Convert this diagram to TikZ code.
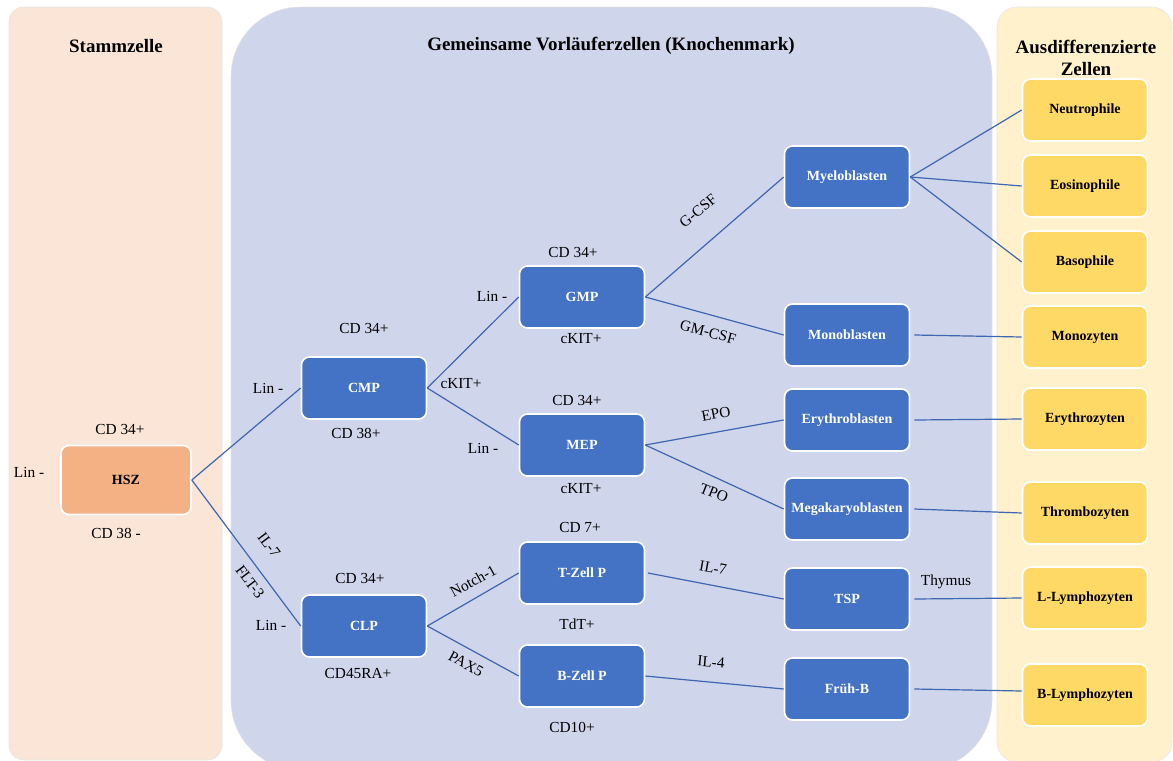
\documentclass[tikz,border=0pt]{standalone}
\usepackage{fontspec}
\setmainfont{Liberation Serif}
\definecolor{stemfill}{HTML}{FAE5D7}
\definecolor{progfill}{HTML}{CFD5EA}
\definecolor{matfill}{HTML}{FFF1CC}
\definecolor{hszfill}{HTML}{F4B183}
\definecolor{progblue}{HTML}{4472C4}
\definecolor{matyellow}{HTML}{FFD966}
\definecolor{linkblue}{HTML}{3F66B0}
\begin{document}
\begin{tikzpicture}[x=0.75pt,y=-0.75pt]
    \tikzstyle{panel} = [draw=black!10, line width=0.4pt]
    \tikzstyle{cell} = [draw=white, line width=1.2pt, rounded corners=6pt, minimum width=93.75pt, minimum height=46.5pt, inner sep=1pt, font=\fontsize{10.5}{12}\selectfont\bfseries]
    \tikzstyle{stem} = [cell, fill=hszfill, minimum width=97.5pt, minimum height=51.75pt]
    \tikzstyle{prog} = [cell, fill=progblue, text=white]
    \tikzstyle{mature} = [cell, fill=matyellow]
    \tikzstyle{marker} = [inner sep=0pt, font=\fontsize{11.5}{13}\selectfont]
    \tikzstyle{link} = [draw=linkblue, line width=0.9pt]
    \tikzstyle{title} = [align=center, font=\fontsize{14.2}{17}\selectfont\bfseries]
    \useasboundingbox (0,0) rectangle (1173,760);

    % Hintergrund
    \draw[panel, fill=stemfill, rounded corners=11pt] (9,7) rectangle (222,760);
    \draw[panel, fill=progfill, rounded corners=52pt] (231,7) rectangle (992,770);
    \draw[panel, fill=matfill, rounded corners=15pt] (997,7) rectangle (1172,762);
    \node[title] (tStamm) at (116,46) {Stammzelle};
    \node[title] (tVorl) at (611,46) {Gemeinsame Vorläuferzellen (Knochenmark)};
    \node[title] (tAusd) at (1086,58) {Ausdifferenzierte\\Zellen};

    % Zellen
    \node[stem] (hsz) at (126,480) {HSZ};
    \node[prog] (cmp) at (364,388) {CMP};
    \node[prog] (gmp) at (582,297) {GMP};
    \node[prog] (mep) at (582,445) {MEP};
    \node[prog] (clp) at (364,626) {CLP};
    \node[prog] (tzp) at (582,573) {T-Zell P};
    \node[prog] (bzp) at (582,676) {B-Zell P};
    \node[prog] (myelo) at (847,177) {Myeloblasten};
    \node[prog] (mono) at (847,335) {Monoblasten};
    \node[prog] (erythro) at (847,420) {Erythroblasten};
    \node[prog] (mega) at (847,509) {Megakaryoblasten};
    \node[prog] (tsp) at (847,599) {TSP};
    \node[prog] (frueh) at (847,689) {Früh-B};
    \node[mature] (neutro) at (1085,110) {Neutrophile};
    \node[mature] (eosino) at (1085,186) {Eosinophile};
    \node[mature] (baso) at (1085,262) {Basophile};
    \node[mature] (monoz) at (1085,337) {Monozyten};
    \node[mature] (erythroz) at (1085,419) {Erythrozyten};
    \node[mature] (thrombo) at (1085,513) {Thrombozyten};
    \node[mature] (llym) at (1085,598) {L-Lymphozyten};
    \node[mature] (blym) at (1085,695) {B-Lymphozyten};

    % Verbindungen
    \draw[link] (hsz.east) -- (cmp.west);
    \draw[link] (hsz.east) -- (clp.west);
    \draw[link] (cmp.east) -- (gmp.west);
    \draw[link] (cmp.east) -- (mep.west);
    \draw[link] (clp.east) -- (tzp.west);
    \draw[link] (clp.east) -- (bzp.west);
    \draw[link] (gmp.east) -- (myelo.west);
    \draw[link] (gmp.east) -- (mono.west);
    \draw[link] (mep.east) -- (erythro.west);
    \draw[link] (mep.east) -- (mega.west);
    \draw[link] ([xshift=2pt]tzp.east) -- (tsp.west);
    \draw[link] (bzp.east) -- (frueh.west);
    \draw[link] (myelo.east) -- (neutro.west);
    \draw[link] (myelo.east) -- (eosino.west);
    \draw[link] (myelo.east) -- (baso.west);
    \draw[link] ([xshift=3pt]mono.east) -- (monoz.west);
    \draw[link] ([xshift=3pt]erythro.east) -- (erythroz.west);
    \draw[link] ([xshift=3pt]mega.east) -- (thrombo.west);
    \draw[link] ([xshift=3pt]tsp.east) -- (llym.west);
    \draw[link] ([xshift=3pt]frueh.east) -- ([yshift=3pt]blym.west);

    % Marker
    \node[marker] (hszA) at (120,429) {CD 34+};
    \node[marker] (hszB) at (29,472) {Lin -};
    \node[marker] (hszC) at (116,533) {CD 38 -};
    \node[marker] (cmpA) at (364,328) {CD 34+};
    \node[marker] (cmpB) at (268,388) {Lin -};
    \node[marker] (cmpC) at (356,433) {CD 38+};
    \node[marker] (cmpD) at (461,384) {cKIT+};
    \node[marker] (gmpA) at (573,252) {CD 34+};
    \node[marker] (gmpB) at (492,296) {Lin -};
    \node[marker] (gmpC) at (581,339) {cKIT+};
    \node[marker] (mepA) at (577,400) {CD 34+};
    \node[marker] (mepB) at (483,448) {Lin -};
    \node[marker] (mepC) at (581,489) {cKIT+};
    \node[marker] (clpA) at (360,578) {CD 34+};
    \node[marker] (clpB) at (271,625) {Lin -};
    \node[marker] (clpC) at (358,673) {CD45RA+};
    \node[marker] (tzpA) at (580,527) {CD 7+};
    \node[marker] (tzpB) at (577,624) {TdT+};
    \node[marker] (bzpA) at (572,727) {CD10+};
    \node[marker] (thymus) at (946,582) {Thymus};

    % Faktoren
    \node[marker, rotate=-53] (il7a) at (269,545) {IL-7};
    \node[marker, rotate=-53] (flt3) at (250,582) {FLT-3};
    \node[marker, rotate=29] (notch) at (473,581) {Notch-1};
    \node[marker, rotate=-29] (pax5) at (466,664) {PAX5};
    \node[marker, rotate=40] (gcsf) at (698,211) {G-CSF};
    \node[marker, rotate=-15] (gmcsf) at (708,332) {GM-CSF};
    \node[marker, rotate=11] (epo) at (716,414) {EPO};
    \node[marker, rotate=-22] (tpo) at (714,493) {TPO};
    \node[marker, rotate=-10] (il7b) at (713,568) {IL-7};
    \node[marker, rotate=-5] (il4) at (711,662) {IL-4};
\end{tikzpicture}
\end{document}
